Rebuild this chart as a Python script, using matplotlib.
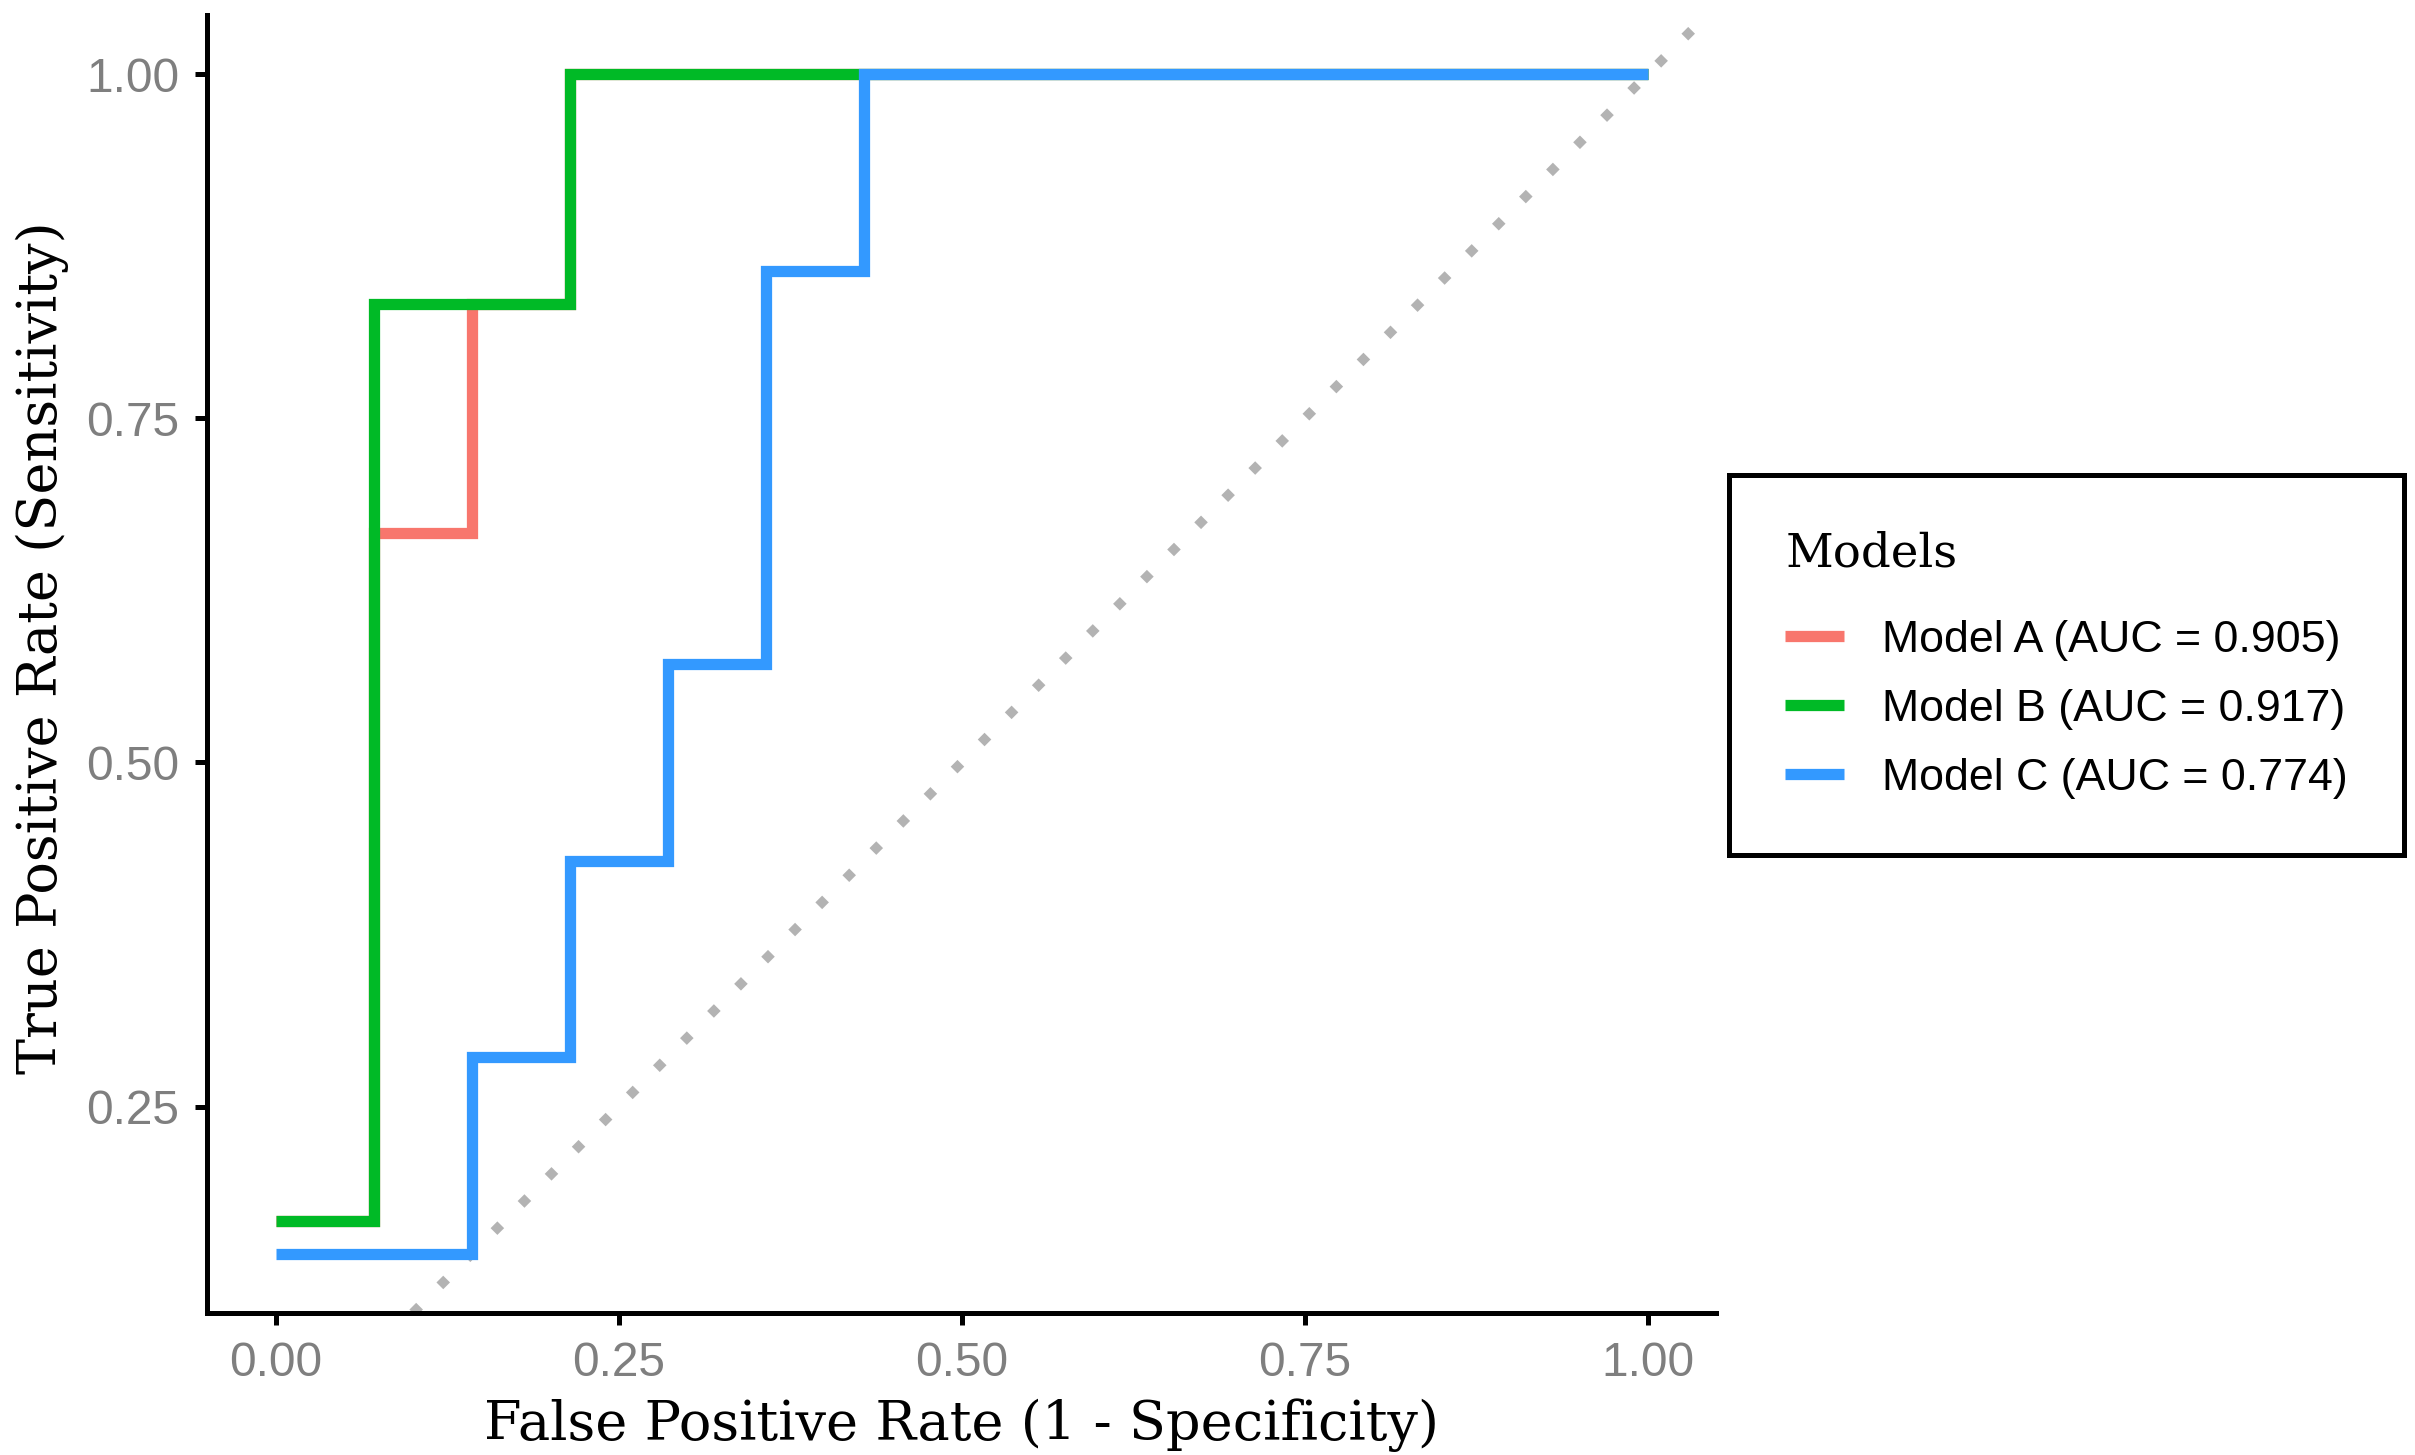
import matplotlib
matplotlib.use("Agg")
import matplotlib.pyplot as plt

# ROC step-curve corner points
fpr_a = [0.0, 0.0714, 0.0714, 0.1429, 0.1429, 0.2143, 0.2143, 1.0]
tpr_a = [0.1667, 0.1667, 0.6667, 0.6667, 0.8333, 0.8333, 1.0, 1.0]

fpr_b = [0.0, 0.0714, 0.0714, 0.2143, 0.2143, 1.0]
tpr_b = [0.1667, 0.1667, 0.8333, 0.8333, 1.0, 1.0]

fpr_c = [0.0, 0.1429, 0.1429, 0.2143, 0.2143, 0.2857, 0.2857, 0.3571, 0.3571, 0.4286, 0.4286, 1.0]
tpr_c = [0.1429, 0.1429, 0.2857, 0.2857, 0.4286, 0.4286, 0.5714, 0.5714, 0.8571, 0.8571, 1.0, 1.0]

labels = ["Model A (AUC = 0.905)", "Model B (AUC = 0.917)", "Model C (AUC = 0.774)"]
colors = ["#F8766D", "#00BA26", "#3399FF"]

x_ticks = [0.00, 0.25, 0.50, 0.75, 1.00]
x_ticklabels = ["0.00", "0.25", "0.50", "0.75", "1.00"]
y_ticks = [0.25, 0.50, 0.75, 1.00]
y_ticklabels = ["0.25", "0.50", "0.75", "1.00"]

sans = ["Liberation Sans", "DejaVu Sans"]
serif = ["DejaVu Serif"]

fig = plt.figure(figsize=(8.05, 4.85), dpi=300)
ax = fig.add_axes([0.0857, 0.0976, 0.625, 0.892])

# reference diagonal
ax.axline((0, 0), (1, 1), color="#B3B3B3", linewidth=2.3,
          linestyle=(0, (1, 3)), dash_capstyle="butt", zorder=1)

handles = []
for fx, ty, lab, col in zip([fpr_a, fpr_b, fpr_c], [tpr_a, tpr_b, tpr_c], labels, colors):
    ln, = ax.plot(fx, ty, color=col, linewidth=2.7, label=lab,
                  solid_capstyle="butt", solid_joinstyle="miter", zorder=2)
    handles.append(ln)

ax.set_xlim(-0.05, 1.05)
ax.set_ylim(0.1, 1.043)

ax.spines["top"].set_visible(False)
ax.spines["right"].set_visible(False)
for s in ["left", "bottom"]:
    ax.spines[s].set_linewidth(1.2)
    ax.spines[s].set_color("black")

ax.set_xticks(x_ticks)
ax.set_xticklabels(x_ticklabels, family=sans, fontsize=11.5, color="#7F7F7F")
ax.set_yticks(y_ticks)
ax.set_yticklabels(y_ticklabels, family=sans, fontsize=11.5, color="#7F7F7F")
ax.tick_params(axis="both", length=2.9, width=1.2, color="black", pad=3.8)

ax.set_xlabel("False Positive Rate (1 - Specificity)", family=serif, fontsize=13, labelpad=3)
ax.set_ylabel("True Positive Rate (Sensitivity)", family=serif, fontsize=13, labelpad=4)
ax.yaxis.label.set_y(0.513)

leg = fig.legend(handles=handles, labels=labels, title="Models",
                 loc="center left", bbox_to_anchor=(0.716, 0.543),
                 prop={"family": sans, "size": 10.75},
                 title_fontproperties={"family": serif, "size": 11.2},
                 frameon=True, fancybox=False, framealpha=1, edgecolor="black",
                 borderpad=1.25, handlelength=1.32, handletextpad=0.85,
                 labelspacing=0.62, borderaxespad=0)
leg.get_frame().set_linewidth(1.2)
leg._legend_box.align = "left"
leg._legend_box.sep = 10.5  # gap between title and entries

plt.savefig("out.png", dpi=300, facecolor="white")
plt.close()
